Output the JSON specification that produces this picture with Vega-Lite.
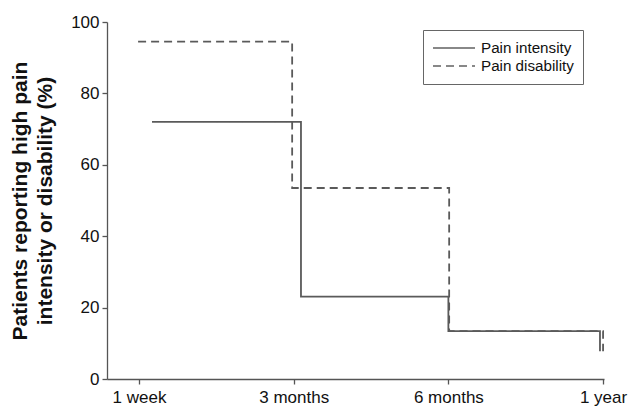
{
  "$schema": "https://vega.github.io/schema/vega-lite/v6.json",
  "width": 497,
  "height": 357,
  "autosize": {"type": "none"},
  "padding": {"left": 107, "top": 22, "right": 30, "bottom": 30},
  "background": "white",
  "config": {
    "view": {"stroke": null},
    "font": "Liberation Sans",
    "axis": {"grid": false, "domainColor": "#555555", "domainWidth": 1.3, "tickColor": "#555555", "tickWidth": 1.3, "labelColor": "#111111", "labelFont": "Liberation Sans", "titleFont": "Liberation Sans"}
  },
  "data": {
    "values": [
      {"series": "Pain intensity", "o": 1, "t": 0.084, "pct": 72},
      {"series": "Pain intensity", "o": 2, "t": 1.047, "pct": 72},
      {"series": "Pain intensity", "o": 3, "t": 1.047, "pct": 23.1},
      {"series": "Pain intensity", "o": 4, "t": 2.0, "pct": 23.1},
      {"series": "Pain intensity", "o": 5, "t": 2.0, "pct": 13.4},
      {"series": "Pain intensity", "o": 6, "t": 2.98, "pct": 13.4},
      {"series": "Pain intensity", "o": 7, "t": 2.98, "pct": 7.8},
      {"series": "Pain disability", "o": 1, "t": -0.006, "pct": 94.5},
      {"series": "Pain disability", "o": 2, "t": 0.99, "pct": 94.5},
      {"series": "Pain disability", "o": 3, "t": 0.99, "pct": 53.5},
      {"series": "Pain disability", "o": 4, "t": 2.005, "pct": 53.5},
      {"series": "Pain disability", "o": 5, "t": 2.005, "pct": 13.4},
      {"series": "Pain disability", "o": 6, "t": 3.0, "pct": 13.4},
      {"series": "Pain disability", "o": 7, "t": 3.0, "pct": 7.8}
    ]
  },
  "mark": {"type": "line", "color": "#5a5a5a", "strokeWidth": 1.8, "strokeCap": "butt"},
  "encoding": {
    "x": {
      "field": "t", "type": "quantitative",
      "scale": {"domain": [-0.207, 3.006], "nice": false, "zero": false},
      "axis": {
        "values": [0, 1, 2, 3],
        "labelExpr": "['1 week','3 months','6 months','1 year'][datum.value]",
        "title": null, "labelFontSize": 17, "labelPadding": 5, "tickSize": 5,
        "labelFlush": false
      }
    },
    "y": {
      "field": "pct", "type": "quantitative",
      "scale": {"domain": [0, 100], "nice": false},
      "axis": {
        "values": [0, 20, 40, 60, 80, 100],
        "title": ["Patients reporting high pain", "intensity or disability (%)"],
        "titleFontSize": 21, "titleFontWeight": "bold", "titleColor": "#111111",
        "titleLineHeight": 25, "titlePadding": 15,
        "labelFontSize": 17, "labelPadding": 3, "tickSize": 5
      }
    },
    "order": {"field": "o", "type": "quantitative"},
    "strokeDash": {
      "field": "series", "type": "nominal",
      "scale": {"domain": ["Pain intensity", "Pain disability"], "range": [[1, 0], [8, 5]]},
      "legend": {
        "title": null, "orient": "none", "legendX": 316, "legendY": 8,
        "strokeColor": "#666666", "padding": 9, "symbolType": "M-1,0H4.25",
        "symbolSize": 256, "symbolStrokeWidth": 2, "symbolStrokeColor": "#888888",
        "labelFontSize": 15.2, "labelColor": "#111111", "rowPadding": -1,
        "labelOffset": 31, "fillColor": "white"
      }
    }
  }
}
